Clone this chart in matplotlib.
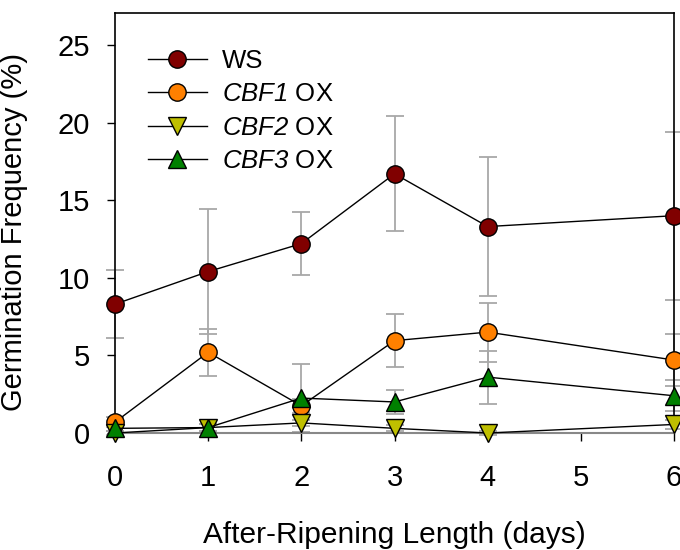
import numpy as np
import matplotlib
matplotlib.use('Agg')
import matplotlib.pyplot as plt

plt.rcParams['font.family'] = ['Liberation Sans', 'DejaVu Sans']
plt.rcParams['mathtext.fontset'] = 'custom'
plt.rcParams['mathtext.sf'] = 'Liberation Sans:italic'
plt.rcParams['mathtext.rm'] = 'Liberation Sans'

# days of after-ripening
days = [0, 1, 2, 3, 4, 6]

# germination frequency (%) and error
ws = [8.3, 10.4, 12.2, 16.7, 13.3, 14.0]
ws_err = [2.2, 4.05, 2.05, 3.7, 4.5, 5.4]
cbf1 = [0.7, 5.2, 1.75, 5.95, 6.5, 4.7]
cbf1_err = [0.3, 1.5, 0.45, 1.7, 1.9, 1.7]
cbf2 = [0.0, 0.35, 0.65, 0.3, 0.0, 0.55]
cbf2_err = [0.1, 0.2, 0.2, 0.2, 0.1, 0.3]
cbf3 = [0.3, 0.35, 2.25, 2.0, 3.6, 2.4]
cbf3_err = [0.2, 0.2, 2.2, 0.75, 1.7, 1.0]

labels = ['WS', r'$\mathsf{CBF1}$ OX', r'$\mathsf{CBF2}$ OX', r'$\mathsf{CBF3}$ OX']
colors = ['#800000', '#ff8000', '#bfbf00', '#008000']
markers = ['o', 'o', 'v', '^']

fig = plt.figure(figsize=(6.8, 5.5), dpi=100)
ax = fig.add_axes([115/680, 1-433/550, (674-115)/680, (433-13.3)/550])

series = [(ws, ws_err), (cbf1, cbf1_err), (cbf2, cbf2_err), (cbf3, cbf3_err)]

for vals, err in series:
    ax.errorbar(days, vals, yerr=err, fmt='none', ecolor='#a8a8a8',
                elinewidth=1.3, capsize=6.5, capthick=1.3, zorder=1, clip_on=False)

for i, (vals, err) in enumerate(series):
    ax.plot(days, vals, color='black', lw=1, marker=markers[i], ms=12.5,
            mfc=colors[i], mec='black', mew=1, label=labels[i], zorder=3 + i,
            clip_on=False)

ax.set_xlim(0, 6)
ax.set_ylim(0, 27.04)
ax.set_xticks([0, 1, 2, 3, 4, 5, 6])
ax.set_yticks([0, 5, 10, 15, 20, 25])

ax.spines['bottom'].set_color('#888888')
ax.spines['bottom'].set_linewidth(1.5)
for s in ['left', 'top', 'right']:
    ax.spines[s].set_linewidth(1.2)

ax.tick_params(axis='x', direction='out', length=6, width=1, labelsize=21, pad=16)
ax.tick_params(axis='y', direction='out', length=6, width=1, labelsize=21, pad=12)

ax.set_xlabel('After-Ripening Length (days)', fontsize=21.5, labelpad=21)
ax.set_ylabel('Germination Frequency (%)', fontsize=21, labelpad=13)
ax.yaxis.set_label_coords(-0.155, 0.48)

ax.legend(loc='upper left', bbox_to_anchor=(0.04, 0.94), frameon=False,
          fontsize=18.5, handlelength=2.3, handletextpad=0.6, labelspacing=0.37,
          borderaxespad=0)

fig.savefig('out.png', dpi=100)
